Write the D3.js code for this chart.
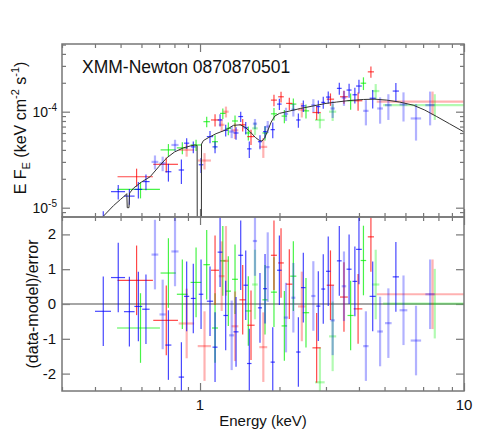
<!DOCTYPE html>
<html>
<head>
<meta charset="utf-8">
<script src="https://cdn.jsdelivr.net/npm/d3@7"></script>
<style>
  body { margin: 0; background: #fff; }
  svg { font-family: "Liberation Sans", Arial, sans-serif; }
</style>
</head>
<body>
<svg id="chart" width="501" height="447"></svg>
<script>
// ---- data ----
// energies (keV), bin half-widths (keV), E F_E flux, flux error, residual, pale flag
var blueE    = [0.43, 0.49, 0.54, 0.584, 0.624, 0.675, 0.722, 0.759, 0.804, 0.85, 0.89, 0.943, 1.009, 1.091, 1.14, 1.191, 1.251, 1.318, 1.369, 1.426, 1.49, 1.537, 1.615, 1.687, 1.763, 1.805, 1.886, 1.998, 2.117, 2.257, 2.358, 2.462, 2.687, 2.806, 2.93, 3.06, 3.18, 3.37, 3.51, 3.67, 3.86, 4.0, 4.25, 4.51, 4.81, 5.17, 5.52, 5.9, 6.58, 7.44];
var blueDE   = [0.03, 0.03, 0.025, 0.02, 0.02, 0.02, 0.02, 0.02, 0.025, 0.02, 0.02, 0.02, 0.02, 0.03, 0.025, 0.025, 0.025, 0.03, 0.03, 0.03, 0.03, 0.03, 0.03, 0.03, 0.03, 0.03, 0.035, 0.04, 0.04, 0.04, 0.045, 0.05, 0.05, 0.05, 0.05, 0.06, 0.06, 0.07, 0.07, 0.08, 0.08, 0.1, 0.1, 0.12, 0.12, 0.15, 0.15, 0.2, 0.3, 0.3];
var blueFlux = [7.6e-6, 1.47e-5, 1.32e-5, 1.55e-5, 1.87e-5, 3.0e-5, 2.9e-5, 2.37e-5, 4.5e-5, 2.47e-5, 4.7e-5, 4.3e-5, 2.8e-5, 5.5e-5, 4.3e-5, 8.2e-5, 6.4e-5, 6.2e-5, 6.0e-5, 8.9e-5, 6.8e-5, 4.1e-5, 7.5e-5, 4.87e-5, 6.2e-5, 7.0e-5, 6.5e-5, 1.2e-4, 9.5e-5, 1.05e-4, 8.2e-5, 1.15e-4, 1.17e-4, 1.13e-4, 1.25e-4, 1.42e-4, 1.08e-4, 1.75e-4, 1.4e-4, 1.68e-4, 1.5e-4, 1.85e-4, 1.02e-4, 1.38e-4, 1.08e-4, 1.17e-4, 1.64e-4, 1.19e-4, 8.5e-5, 1.17e-4];
var blueErr  = [1.6e-6, 2.5e-6, 2.5e-6, 3e-6, 3.5e-6, 5e-6, 5e-6, 5e-6, 6e-6, 7e-6, 6e-6, 6e-6, 5e-6, 8e-6, 6e-6, 1.2e-5, 9e-6, 9e-6, 9e-6, 1.1e-5, 1e-5, 8e-6, 9e-6, 8e-6, 9e-6, 1e-5, 1.2e-5, 1.6e-5, 1.5e-5, 1.6e-5, 1.4e-5, 1.6e-5, 1.8e-5, 1.8e-5, 1.8e-5, 2e-5, 2.2e-5, 2.5e-5, 2.5e-5, 2.8e-5, 2.8e-5, 3e-5, 3e-5, 3e-5, 3.3e-5, 3.5e-5, 3.5e-5, 4e-5, 3.5e-5, 4.5e-5];
var blueRes  = [-0.21, 0.76, -0.22, -0.07, -0.15, 1.42, -0.30, -1.18, 1.51, -2.10, 0.22, 0.16, 0.28, 0.08, -1.24, 1.49, -0.33, -0.90, -0.80, 1.40, 0.54, -1.71, 1.81, -0.11, 0.44, 1.06, -1.67, 0.97, -0.39, 0.18, -1.38, 0.47, 0.23, -0.06, 0.43, 0.94, -0.47, 1.24, 0.51, 1.0, 0.65, 1.57, -1.21, 0.22, -0.79, -0.55, 0.78, -0.18, -1.05, 0.28];
var bluePale = [0, 0, 0, 0, 0, 1, 1, 0, 1, 0, 0, 0, 0, 0, 0, 0, 0, 1, 0, 0, 0, 0, 1, 0, 0, 1, 0, 0, 1, 1, 0, 0, 1, 0, 0, 0, 1, 0, 1, 0, 0, 0, 1, 0, 1, 1, 0, 1, 1, 1];

var redE    = [0.575, 0.745, 0.89, 1.04, 1.14, 1.208, 1.254, 1.357, 1.451, 1.56, 1.737, 1.906, 2.027, 2.179, 2.43, 2.766, 3.12, 3.51, 3.97, 4.44, 7.6];
var redDE   = [0.088, 0.08, 0.06, 0.06, 0.04, 0.03, 0.03, 0.04, 0.04, 0.05, 0.06, 0.05, 0.05, 0.06, 0.08, 0.1, 0.1, 0.12, 0.15, 0.12, 2.93];
var redFlux = [2.1e-5, 2.83e-5, 4.0e-5, 3.1e-5, 8.2e-5, 7.3e-5, 1.0e-4, 6.4e-5, 7.3e-5, 5.5e-5, 4.3e-5, 1.32e-4, 1.43e-4, 1.22e-4, 1.05e-4, 9.8e-5, 1.35e-4, 1.43e-4, 1.3e-4, 2.6e-4, 1.27e-4];
var redErr  = [4.5e-6, 5e-6, 6e-6, 6e-6, 1.2e-5, 1.1e-5, 1.3e-5, 1.2e-5, 1.1e-5, 1e-5, 1e-5, 1.8e-5, 1.8e-5, 1.8e-5, 1.8e-5, 1.6e-5, 2e-5, 2.2e-5, 2.8e-5, 3.5e-5, 3.5e-5];
var redRes  = [0.68, -0.47, -0.56, -1.21, 0.97, 0.80, 1.24, -0.64, 0.12, -0.61, -1.24, 1.40, 1.18, 0.57, -0.07, -1.26, 0.54, 0.2, -0.14, 1.93, 0.28];
var redPale = [0, 0, 1, 1, 0, 1, 1, 1, 0, 0, 1, 0, 0, 0, 1, 0, 0, 0, 0, 0, 1];

var greenE    = [0.595, 0.759, 0.857, 0.966, 1.06, 1.14, 1.22, 1.28, 1.357, 1.524, 1.615, 1.763, 1.906, 2.087, 2.257, 2.52, 2.846, 3.18, 3.72, 4.16, 4.63, 7.75];
var greenDE   = [0.11, 0.05, 0.04, 0.045, 0.03, 0.03, 0.03, 0.03, 0.035, 0.04, 0.04, 0.04, 0.05, 0.05, 0.06, 0.07, 0.12, 0.1, 0.1, 0.1, 0.15, 2.81];
var greenFlux = [1.55e-5, 4.0e-5, 4.2e-5, 4.5e-5, 7.87e-5, 4.87e-5, 9.6e-5, 6.7e-5, 8.0e-5, 6.0e-5, 6.7e-5, 6.0e-5, 9.5e-5, 9.0e-5, 1.2e-4, 1.02e-4, 8.2e-5, 1.0e-4, 1.3e-4, 1.98e-4, 1.64e-4, 1.17e-4];
var greenErr  = [3e-6, 6e-6, 6e-6, 6e-6, 1e-5, 8e-6, 1.2e-5, 1e-5, 1.1e-5, 1e-5, 1e-5, 1e-5, 1.4e-5, 1.4e-5, 1.7e-5, 1.7e-5, 1.5e-5, 2e-5, 2.5e-5, 3e-5, 3e-5, 3.5e-5];
var greenRes  = [-0.69, 0.89, 0.28, 0.62, 1.13, -0.69, 1.24, 0.37, 0.71, -0.20, 0.56, 0.12, 0.34, -0.63, 0.80, -0.25, -2.25, -0.93, -0.33, 1.25, 0.56, 0.01];
var greenPale = [0, 0, 0, 0, 0, 0, 0, 0, 0, 0, 1, 0, 0, 0, 0, 0, 1, 1, 0, 0, 1, 1];

// model curve
var modelE = [0.42, 0.47, 0.5, 0.525, 0.528, 0.53, 0.538, 0.541, 0.56, 0.6, 0.647, 0.7, 0.748, 0.8, 0.865, 0.92, 0.957, 0.975, 0.977, 1.0, 1.011, 1.013, 1.03, 1.08, 1.15, 1.26, 1.337, 1.42, 1.48, 1.546, 1.62, 1.68, 1.72, 1.76, 1.8, 1.86, 1.92, 2.0, 2.13, 2.4, 2.61, 3.0, 3.29, 3.7, 4.16, 4.6, 5.1, 5.7, 6.42, 7.1, 7.88, 8.8, 9.95, 10.0];
var modelF = [7.6e-6, 1.05e-5, 1.22e-5, 1.37e-5, 1.4e-5, 1.0e-5, 1.0e-5, 1.42e-5, 1.6e-5, 1.85e-5, 2.1e-5, 2.7e-5, 3.3e-5, 3.8e-5, 4.2e-5, 4.4e-5, 4.5e-5, 4.45e-5, 1e-6, 1e-6, 1e-6, 4.6e-5, 5.0e-5, 5.4e-5, 5.9e-5, 6.5e-5, 7.2e-5, 7.3e-5, 6.9e-5, 6.2e-5, 5.4e-5, 5.0e-5, 4.95e-5, 5.4e-5, 6.2e-5, 7.8e-5, 9.0e-5, 9.6e-5, 1.0e-4, 1.08e-4, 1.13e-4, 1.22e-4, 1.26e-4, 1.31e-4, 1.34e-4, 1.35e-4, 1.32e-4, 1.26e-4, 1.17e-4, 1.04e-4, 8.9e-5, 7.5e-5, 6.2e-5, 6.1e-5];

var xMajor = [1, 10];
var xMinor = [0.3, 0.4, 0.5, 0.6, 0.7, 0.8, 0.9, 2, 3, 4, 5, 6, 7, 8, 9];
var yTopMajor = [1e-5, 1e-4];
var yTopMinor = [9e-6, 2e-5, 3e-5, 4e-5, 5e-5, 6e-5, 7e-5, 8e-5, 9e-5, 2e-4, 3e-4, 4e-4, 5e-4];
var yResTicks = [-2, -1, 0, 1, 2];

// ---- layout ----
var plotL = 62, plotR = 464, plotT = 44, plotM = 217, plotB = 391;
var svg = d3.select("#chart");

var x = d3.scaleLog().domain([0.3, 10]).range([plotL, plotR]);
var yTop = d3.scaleLog().domain([8e-6, 5.07e-4]).range([plotM, plotT]);
var yRes = d3.scaleLinear().domain([-2.5, 2.5]).range([plotB, plotM]);

var defs = svg.append("defs");
defs.append("clipPath").attr("id", "clipTop")
  .append("rect").attr("x", plotL).attr("y", plotT).attr("width", plotR - plotL).attr("height", plotM - plotT);
defs.append("clipPath").attr("id", "clipRes")
  .append("rect").attr("x", plotL).attr("y", plotM).attr("width", plotR - plotL).attr("height", plotB - plotM);

var frameColor = "#777";
var tickColor = "#777";

// ticks drawn with d3 axes, inward, no domain line
function tickAxis(axisFn, scale, values, size, transform) {
  var g = svg.append("g")
    .attr("transform", transform)
    .call(axisFn(scale).tickValues(values).tickSizeInner(-size).tickSizeOuter(0).tickFormat(""));
  g.select(".domain").remove();
  g.selectAll("line").attr("stroke", tickColor).attr("stroke-width", 1.2);
  return g;
}

// top panel ticks
tickAxis(d3.axisTop, x, xMajor, 8, "translate(0," + plotT + ")");
tickAxis(d3.axisTop, x, xMinor, 4, "translate(0," + plotT + ")");
tickAxis(d3.axisBottom, x, xMajor, 8, "translate(0," + plotM + ")");
tickAxis(d3.axisBottom, x, xMinor, 4, "translate(0," + plotM + ")");
tickAxis(d3.axisLeft, yTop, yTopMajor, 8, "translate(" + plotL + ",0)");
tickAxis(d3.axisLeft, yTop, yTopMinor, 4, "translate(" + plotL + ",0)");
tickAxis(d3.axisRight, yTop, yTopMajor, 8, "translate(" + plotR + ",0)");
tickAxis(d3.axisRight, yTop, yTopMinor, 4, "translate(" + plotR + ",0)");

// residual panel ticks
tickAxis(d3.axisTop, x, xMajor, 8, "translate(0," + plotM + ")");
tickAxis(d3.axisTop, x, xMinor, 4, "translate(0," + plotM + ")");
tickAxis(d3.axisBottom, x, xMajor, 8, "translate(0," + plotB + ")");
tickAxis(d3.axisBottom, x, xMinor, 4, "translate(0," + plotB + ")");
tickAxis(d3.axisLeft, yRes, yResTicks, 8, "translate(" + plotL + ",0)");
tickAxis(d3.axisRight, yRes, yResTicks, 8, "translate(" + plotR + ",0)");

// zero line
svg.append("line")
  .attr("x1", plotL).attr("x2", plotR)
  .attr("y1", yRes(0)).attr("y2", yRes(0))
  .attr("stroke", "#888").attr("stroke-width", 1.5);

// ---- data crosses ----
function drawSeries(color, E, DE, F, FE, R, P) {
  var topG = svg.append("g").attr("clip-path", "url(#clipTop)");
  var resG = svg.append("g").attr("clip-path", "url(#clipRes)");
  E.forEach(function (e, i) {
    var op = P[i] ? 0.3 : 0.72;
    var sw = P[i] ? 2.2 : 1.2;
    var lo = Math.max(F[i] - FE[i], 1e-7);
    // top panel
    topG.append("line")
      .attr("x1", x(Math.max(e - DE[i], 0.01))).attr("x2", x(e + DE[i]))
      .attr("y1", yTop(F[i])).attr("y2", yTop(F[i]))
      .attr("stroke", color).attr("stroke-opacity", op).attr("stroke-width", sw);
    topG.append("line")
      .attr("x1", x(e)).attr("x2", x(e))
      .attr("y1", yTop(lo)).attr("y2", yTop(F[i] + FE[i]))
      .attr("stroke", color).attr("stroke-opacity", op).attr("stroke-width", sw);
    // residuals, error is one sigma
    resG.append("line")
      .attr("x1", x(Math.max(e - DE[i], 0.01))).attr("x2", x(e + DE[i]))
      .attr("y1", yRes(R[i])).attr("y2", yRes(R[i]))
      .attr("stroke", color).attr("stroke-opacity", op).attr("stroke-width", sw);
    resG.append("line")
      .attr("x1", x(e)).attr("x2", x(e))
      .attr("y1", yRes(R[i] - 1)).attr("y2", yRes(R[i] + 1))
      .attr("stroke", color).attr("stroke-opacity", op).attr("stroke-width", sw);
  });
}

drawSeries("#00ee00", greenE, greenDE, greenFlux, greenErr, greenRes, greenPale);
drawSeries("#ff0000", redE, redDE, redFlux, redErr, redRes, redPale);
drawSeries("#0000ff", blueE, blueDE, blueFlux, blueErr, blueRes, bluePale);

// model
var modelLine = d3.line()
  .x(function (d, i) { return x(modelE[i]); })
  .y(function (d) { return yTop(d); });
svg.append("path")
  .attr("clip-path", "url(#clipTop)")
  .attr("d", modelLine(modelF))
  .attr("fill", "none")
  .attr("stroke", "#333")
  .attr("stroke-width", 1);

// frames
svg.append("rect").attr("x", plotL).attr("y", plotT).attr("width", plotR - plotL).attr("height", plotM - plotT)
  .attr("fill", "none").attr("stroke", frameColor).attr("stroke-width", 1.5);
svg.append("rect").attr("x", plotL).attr("y", plotM).attr("width", plotR - plotL).attr("height", plotB - plotM)
  .attr("fill", "none").attr("stroke", frameColor).attr("stroke-width", 1.5);

// ---- labels ----
var txt = "#111";

// x tick labels
xMajor.forEach(function (v) {
  svg.append("text")
    .attr("x", x(v)).attr("y", 410)
    .attr("text-anchor", "middle")
    .attr("font-size", 15).attr("fill", txt)
    .text(v);
});

// top y tick labels: 10^-5, 10^-4
yTopMajor.forEach(function (v) {
  var t = svg.append("text")
    .attr("x", 57).attr("y", yTop(v) + 5)
    .attr("text-anchor", "end")
    .attr("font-size", 14).attr("fill", txt);
  t.append("tspan").text("10");
  t.append("tspan").attr("dy", -6).attr("font-size", 10).text(Math.round(Math.log10(v)));
});

// residual y tick labels
yResTicks.forEach(function (v) {
  svg.append("text")
    .attr("x", 56).attr("y", yRes(v) + 5)
    .attr("text-anchor", "end")
    .attr("font-size", 15).attr("fill", txt)
    .text(v);
});

// axis titles
svg.append("text")
  .attr("x", (plotL + plotR) / 2).attr("y", 426)
  .attr("text-anchor", "middle")
  .attr("font-size", 15).attr("fill", txt)
  .text("Energy (keV)");

var yt = svg.append("text")
  .attr("transform", "translate(26,128) rotate(-90)")
  .attr("text-anchor", "middle")
  .attr("font-size", 16).attr("fill", txt);
yt.append("tspan").text("E F");
yt.append("tspan").attr("dy", 4).attr("font-size", 11).text("E");
yt.append("tspan").attr("dy", -4).text(" (keV cm");
yt.append("tspan").attr("dy", -7).attr("font-size", 11).text("-2");
yt.append("tspan").attr("dy", 7).text(" s");
yt.append("tspan").attr("dy", -7).attr("font-size", 11).text("-1");
yt.append("tspan").attr("dy", 7).text(")");

svg.append("text")
  .attr("transform", "translate(38,304) rotate(-90)")
  .attr("text-anchor", "middle")
  .attr("font-size", 16).attr("fill", txt)
  .text("(data-model)/error");

// title
svg.append("text")
  .attr("x", 82).attr("y", 73)
  .attr("font-size", 17.5).attr("fill", txt)
  .text("XMM-Newton 0870870501");
</script>
</body>
</html>
